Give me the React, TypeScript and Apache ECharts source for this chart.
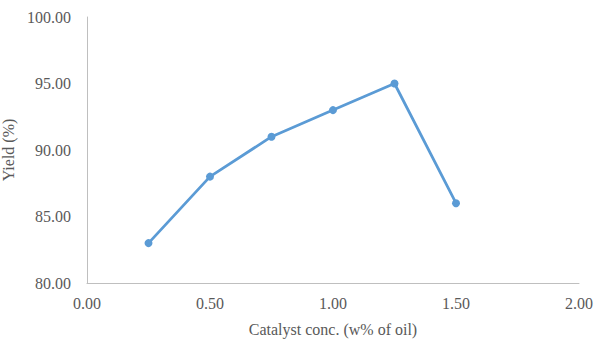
import React, { useEffect, useRef } from "react";
import * as echarts from "echarts";

const xValues = [0.25, 0.5, 0.75, 1.0, 1.25, 1.5];
const yieldValues = [83, 88, 91, 93, 95, 86];
const xTitle = "Catalyst conc. (w% of oil)";
const yTitle = "Yield (%)";

export default function App() {
  const ref = useRef<HTMLDivElement>(null);
  useEffect(() => {
    if (!ref.current) return;
    const chart = echarts.init(ref.current, null, { renderer: "svg" });
    const font = "Liberation Serif";
    const labelStyle = { fontFamily: font, fontSize: 16, color: "#595959" };
    chart.setOption({
      animation: false,
      backgroundColor: "#ffffff",
      textStyle: { fontFamily: font },
      grid: {
        left: 87,
        right: 19,
        top: 17,
        bottom: 63,
        containLabel: false,
        outerBoundsMode: "none",
      },
      xAxis: {
        type: "value",
        min: 0,
        max: 2,
        interval: 0.5,
        name: xTitle,
        nameLocation: "middle",
        nameGap: 38,
        nameTextStyle: labelStyle,
        axisLine: { show: true, lineStyle: { color: "#bfbfbf", width: 1 } },
        axisTick: { show: false },
        splitLine: { show: false },
        axisLabel: {
          ...labelStyle,
          margin: 12,
          formatter: (v: number) => v.toFixed(2),
        },
      },
      yAxis: {
        type: "value",
        min: 80,
        max: 100,
        interval: 5,
        name: yTitle,
        nameLocation: "middle",
        nameGap: 69,
        nameRotate: 90,
        nameTextStyle: labelStyle,
        axisLine: { show: true, lineStyle: { color: "#bfbfbf", width: 1 } },
        axisTick: { show: false },
        splitLine: { show: false },
        axisLabel: {
          ...labelStyle,
          margin: 16,
          formatter: (v: number) => v.toFixed(2),
        },
      },
      series: [
        {
          type: "line",
          data: xValues.map((x, i) => [x, yieldValues[i]]),
          symbol: "circle",
          symbolSize: 8,
          lineStyle: { color: "#5B9BD5", width: 2.75 },
          itemStyle: { color: "#5B9BD5" },
        },
      ],
    });
    return () => chart.dispose();
  }, []);
  return (
    <div
      ref={ref}
      style={{ position: "fixed", left: 0, top: 0, width: 598, height: 346, background: "#fff" }}
    />
  );
}
